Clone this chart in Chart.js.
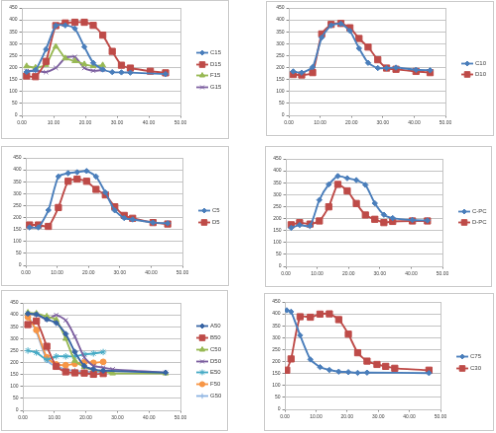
<!DOCTYPE html>
<html>
<head>
<meta charset="utf-8">
<script src="https://cdn.jsdelivr.net/npm/chart.js@4.4.1/dist/chart.umd.min.js"></script>
<style>
  html, body { margin: 0; padding: 0; background: #fff; }
  body { width: 496px; height: 433px; position: relative; overflow: hidden; }
  canvas { position: absolute; border: 1px solid #cbcbcb; }
</style>
</head>
<body>
<canvas id="p1"></canvas>
<canvas id="p2"></canvas>
<canvas id="p3"></canvas>
<canvas id="p4"></canvas>
<canvas id="p5"></canvas>
<canvas id="p6"></canvas>
<script>
// ── DATOS ──
// panel 1
const x1   = [1.5, 4.3, 7.6, 10.7, 13.7, 16.7, 19.7, 22.5, 25.5, 28.5, 31.4, 34.2, 40.5, 45.3];
const c15  = [182, 190, 277, 376, 377, 364, 287, 220, 192, 181, 180, 179, null, 173];
const d15  = [165, 162, 226, 376, 387, 390, 390, 377, 336, 268, 210, 198, 185, 178];
const f15  = [206, 200, 212, 288, 239, 228, 214, 207, 210];
const g15  = [185, 188, 181, 199, 240, 245, 198, 187, 190];
// panel 2
const x2   = [1.4, 4.1, 7.6, 10.5, 13.5, 16.6, 19.5, 22.4, 25.3, 28.4, 31.2, 34.2, 40.6, 45.1];
const c10  = [184, 179, 202, 326, 377, 384, 354, 281, 220, 198, 198, 200, 191, 189];
const d10  = [171, 169, 179, 341, 381, 385, 367, 322, 286, 233, 198, 193, 184, 179];
// panel 3
const x3   = [1.2, 4.0, 7.2, 10.4, 13.5, 16.4, 19.4, 22.4, 25.4, 28.4, 31.4, 34.1, 40.6, 45.3];
const c5   = [159, 159, 231, 372, 386, 390, 395, 372, 305, 230, 198, 192, 179, 176];
const d5   = [169, 169, 163, 242, 352, 361, 352, 318, 295, 245, 209, 197, 179, 173];
// panel 4
const x4   = [1.7, 4.4, 7.7, 10.7, 13.7, 16.6, 19.6, 22.5, 25.4, 28.4, 31.3, 34.1, 40.4, 45.2];
const cPC  = [161, 173, 169, 278, 343, 378, 369, 361, 341, 264, 216, 202, 194, 192];
const dPC  = [174, 183, 177, 190, 249, 343, 316, 263, 215, 197, 183, 188, 190, 190];
// panel 5
const x5   = [1.6, 4.3, 7.6, 10.6, 13.6, 16.5, 19.5, 22.4, 25.5, 28.5, 45.3];
const a50  = [405, 402, 381, 366, 320, 245, 186, 172, 166, null, 158];
const b50  = [359, 374, 268, 184, 161, 157, 156, 151, 154];
const c50  = [409, 405, 393, 379, 300, 208, 182, 168, 163, 155, 155];
const d50  = [405, 402, 381, 399, 377, 309, 222, 186, 179, 172, 158];
const e50  = [250, 242, 212, 226, 226, 226, 234, 238, 244];
const f50  = [390, 336, 222, 192, 189, 195, 201, 199, 203];
const g50  = [398, 330, 210, 183, 172, 165, 162, 160, 162];
// panel 6
const x6   = [0.6, 2.0, 4.9, 8.2, 11.3, 14.3, 17.3, 20.4, 23.4, 26.4, 29.6, 32.4, 35.3, 46.3];
const x6b  = [0.6, 2.0, 4.9, 8.2, 11.3, 14.3, 17.3, 20.4, 23.4, 26.4, 46.3];
const c75  = [415, 409, 310, 209, 177, 165, 158, 156, 153, 154, 152];
const c30  = [164, 211, 388, 386, 399, 400, 376, 315, 237, 202, 188, 180, 172, 164];

const xTicks = [0, 10, 20, 30, 40, 50];
const yTicks = [0, 50, 100, 150, 200, 250, 300, 350, 400, 450];

// ── ESTILOS DE SERIE (colores tipo Excel) ──
const S = {
  blue:   { color: '#4a7ebb', pointStyle: 'rectRot',  radius: 2.7 },
  red:    { color: '#be4b48', pointStyle: 'rect',     radius: 4.4 },
  green:  { color: '#98b954', pointStyle: 'triangle', radius: 3.3 },
  purple: { color: '#7d60a0', pointStyle: 'crossRot', radius: 3.0 },
  cyan:   { color: '#46aac5', pointStyle: 'star',     radius: 3.2 },
  orange: { color: '#f79646', pointStyle: 'circle',   radius: 2.9 },
  dblue:  { color: '#3764a4', pointStyle: 'rectRot',  radius: 2.7 },
  lblue:  { color: '#8db3e2', pointStyle: 'cross',    radius: 3.0 },
};

const paneles = [
  { id: 'p1', box: [1, 0, 230, 141],   plot: [22, 8, 182, 117],
    series: [['C15', x1, c15, S.blue], ['D15', x1, d15, S.red], ['F15', x1, f15, S.green], ['G15', x1, g15, S.purple]] },
  { id: 'p2', box: [266, 1, 230, 137], plot: [289, 8, 447, 117],
    series: [['C10', x2, c10, S.blue], ['D10', x2, d10, S.red]] },
  { id: 'p3', box: [1, 146, 230, 142], plot: [26, 158, 184, 267],
    series: [['C5', x3, c5, S.blue], ['D5', x3, d5, S.red]] },
  { id: 'p4', box: [265, 146, 229, 143], plot: [286, 159, 444, 268],
    series: [['C-PC', x4, cPC, S.blue], ['D-PC', x4, dPC, S.red]] },
  { id: 'p5', box: [1, 290, 229, 143], plot: [23, 303, 182, 412],
    series: [['A50', x5, a50, S.dblue], ['B50', x5, b50, S.red], ['C50', x5, c50, S.green], ['D50', x5, d50, S.purple],
             ['E50', x5, e50, S.cyan], ['F50', x5, f50, S.orange], ['G50', x5, g50, S.lblue]] },
  { id: 'p6', box: [264, 293, 232, 140], plot: [285, 302, 442, 411],
    series: [['C75', x6b, c75, S.blue], ['C30', x6, c30, S.red]] },
];

const FONT = { family: "'Liberation Sans', Arial, sans-serif", size: 5 };
const TXT  = '#404040';
const GRID = '#c4c4c4';
const AXIS = '#8a8a8a';

// marco del área de trazado
const marcoPlot = {
  id: 'marcoPlot',
  beforeDatasetsDraw(chart) {
    const { ctx, chartArea: a } = chart;
    ctx.save();
    ctx.strokeStyle = GRID;
    ctx.lineWidth = 1;
    ctx.strokeRect(Math.round(a.left) + 0.5, Math.round(a.top) + 0.5, Math.round(a.right - a.left), Math.round(a.bottom - a.top));
    ctx.restore();
  }
};

// leyenda tipo Excel: línea + marcador
const leyenda = {
  id: 'leyenda',
  afterDraw(chart) {
    const { ctx, chartArea: a } = chart;
    const ds = chart.data.datasets;
    const paso = 11.7;
    const x0 = a.right + 16;
    const y0 = chart.height / 2 - (ds.length - 1) * paso / 2;
    ctx.save();
    ds.forEach((d, i) => {
      const y = Math.round(y0 + i * paso) + 0.5;
      ctx.strokeStyle = d.borderColor;
      ctx.lineWidth = 1.8;
      ctx.beginPath();
      ctx.moveTo(x0, y);
      ctx.lineTo(x0 + 12, y);
      ctx.stroke();
      ctx.fillStyle = d.borderColor;
      ctx.strokeStyle = d.borderColor;
      ctx.lineWidth = 1;
      Chart.helpers.drawPoint(ctx, { pointStyle: d.pointStyle, radius: d.pointRadius * 0.9, rotation: 0, borderWidth: 1 }, x0 + 6, y);
      ctx.fillStyle = TXT;
      ctx.font = "6px 'Liberation Sans', Arial, sans-serif";
      ctx.textBaseline = 'middle';
      ctx.fillText(d.label, x0 + 14, y);
    });
    ctx.restore();
  }
};

function puntos(xs, ys) {
  const out = [];
  ys.forEach((v, i) => { if (v != null) out.push({ x: xs[i], y: v }); });
  return out;
}

paneles.forEach(p => {
  const [bx, by, bw, bh] = p.box;
  const [pl, pt, pr, pb] = p.plot;
  const cv = document.getElementById(p.id);
  const w = bw - 2, h = bh - 2;
  cv.width = w; cv.height = h;
  cv.style.left = bx + 'px'; cv.style.top = by + 'px';
  const ox = bx + 1, oy = by + 1;

  new Chart(cv.getContext('2d'), {
    type: 'scatter',
    data: {
      datasets: p.series.map(([label, xs, ys, st]) => ({
        label,
        data: puntos(xs, ys),
        showLine: true,
        borderColor: st.color,
        backgroundColor: st.color,
        borderWidth: 1.9,
        tension: 0.2,
        pointStyle: st.pointStyle,
        pointRadius: st.radius,
        pointBorderWidth: 1,
        pointBorderColor: st.color,
        pointBackgroundColor: st.color,
      }))
    },
    options: {
      responsive: false,
      animation: false,
      devicePixelRatio: 1,
      layout: { padding: { left: 0, top: pt - oy, right: (ox + w) - pr, bottom: 0 } },
      plugins: { legend: { display: false }, tooltip: { enabled: false } },
      scales: {
        x: {
          type: 'linear', min: 0, max: 50,
          afterBuildTicks: s => { s.ticks = xTicks.map(v => ({ value: v })); },
          afterFit: s => { s.height = (oy + h) - pb; },
          ticks: { font: FONT, color: TXT, padding: 2, maxRotation: 0, autoSkip: false, callback: v => v.toFixed(2) },
          grid: { drawOnChartArea: false, drawTicks: true, tickLength: 2.5, color: AXIS },
          border: { color: AXIS, width: 1 },
        },
        y: {
          min: 0, max: 450,
          afterBuildTicks: s => { s.ticks = yTicks.map(v => ({ value: v })); },
          afterFit: s => { s.width = pl - ox; },
          ticks: { font: FONT, color: TXT, padding: 2, autoSkip: false },
          grid: { color: GRID, tickColor: AXIS, tickLength: 2.5 },
          border: { color: AXIS, width: 1 },
        }
      }
    },
    plugins: [marcoPlot, leyenda]
  });
});
</script>
</body>
</html>
